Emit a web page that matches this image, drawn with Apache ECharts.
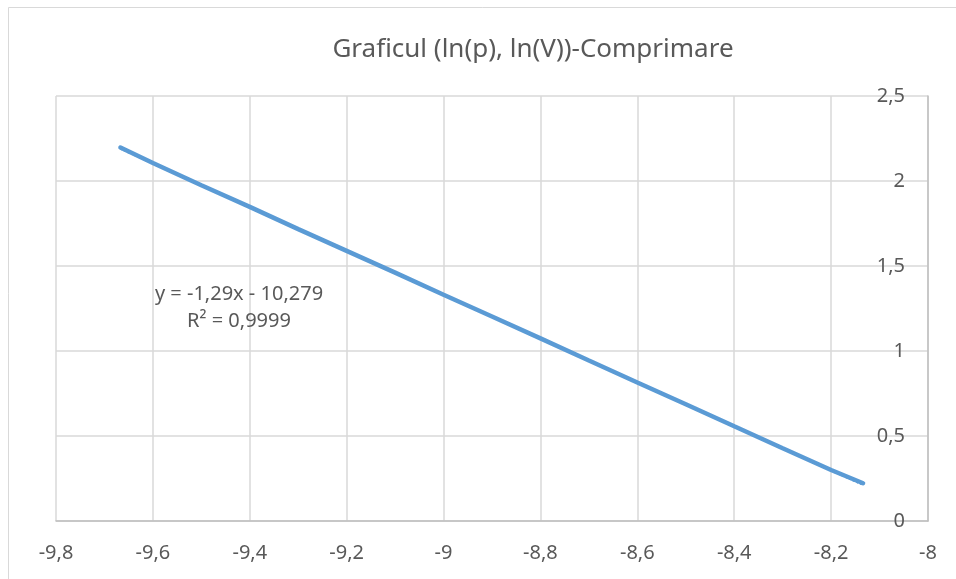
<!DOCTYPE html>
<html>
<head>
<meta charset="utf-8">
<script src="https://cdn.jsdelivr.net/npm/echarts@6/dist/echarts.min.js"></script>
<style>
  html, body { margin: 0; padding: 0; background: #ffffff; }
  #chart { width: 956px; height: 579px; }
</style>
</head>
<body>
<div id="chart"></div>
<script>
// Measured points: ln(p) on x, ln(V) on y, compression run
const lnP = [-9.667, -9.6, -9.5, -9.4, -9.3, -9.2, -9.1, -9.0, -8.9, -8.8, -8.7, -8.6, -8.5, -8.4, -8.3, -8.2, -8.134];
const lnV = [2.197, 2.106, 1.975, 1.848, 1.717, 1.589, 1.461, 1.331, 1.203, 1.074, 0.944, 0.815, 0.687, 0.557, 0.428, 0.300, 0.222];

// Linear trendline coefficients, as printed on the chart
const slope = -1.29;
const intercept = -10.279;
const rSquared = 0.9999;

// Axis ranges and ticks
const xRange = [-9.8, -8];
const xStep = 0.2;
const yRange = [0, 2.5];
const yStep = 0.5;

const titleText = 'Graficul (ln(p), ln(V))-Comprimare';

const fmtComma = (v) => String(+(+v).toFixed(4)).replace('.', ',');

const dataPts = lnP.map((x, i) => [x, lnV[i]]);
const xMin = Math.min(...lnP), xMax = Math.max(...lnP);
const trendPts = [[xMin, slope * xMin + intercept], [xMax, slope * xMax + intercept]];

const eqText = 'y = ' + fmtComma(slope) + 'x - ' + fmtComma(Math.abs(intercept)) +
  '\nR² = ' + fmtComma(rSquared);

const textColor = '#595959';
const gridColor = '#d9d9d9';
const axisColor = '#bfbfbf';
const lineColor = '#5b9bd5';
const fontFamily = '"Noto Sans", "Open Sans", sans-serif';

const chart = echarts.init(document.getElementById('chart'), null, { renderer: 'canvas' });

chart.setOption({
  backgroundColor: '#ffffff',
  animation: false,
  graphic: [
    {
      type: 'rect', z: -10, silent: true,
      shape: { x: 8.5, y: 7.5, width: 1200, height: 800 },
      style: { fill: '#ffffff', stroke: gridColor, lineWidth: 1 }
    },
    {
      type: 'text', z: 10, silent: true,
      x: 533, y: 50,
      style: {
        text: titleText, align: 'center', verticalAlign: 'middle',
        fill: textColor, font: '26px ' + fontFamily
      }
    },
    {
      type: 'text', z: 10, silent: true,
      x: 239, y: 308,
      style: {
        text: eqText, align: 'center', verticalAlign: 'middle',
        fill: textColor, font: '20px ' + fontFamily, lineHeight: 27
      }
    }
  ],
  grid: { left: 56, right: 28, top: 96, bottom: 58, containLabel: false },
  xAxis: {
    type: 'value',
    min: xRange[0], max: xRange[1], interval: xStep,
    axisLine: { show: true, onZero: false, lineStyle: { color: axisColor, width: 1.5 } },
    axisTick: { show: false },
    splitLine: { show: true, lineStyle: { color: gridColor, width: 1.5 } },
    axisLabel: {
      color: textColor, fontFamily: fontFamily, fontSize: 20, margin: 22,
      formatter: fmtComma
    }
  },
  yAxis: {
    type: 'value',
    position: 'right',
    min: yRange[0], max: yRange[1], interval: yStep,
    axisLine: { show: true, onZero: false, lineStyle: { color: axisColor, width: 1.5 } },
    axisTick: { show: false },
    splitLine: { show: true, lineStyle: { color: gridColor, width: 1.5 } },
    axisLabel: {
      inside: true, color: textColor, fontFamily: fontFamily, fontSize: 20, margin: 23,
      formatter: fmtComma
    }
  },
  series: [
    {
      name: 'ln(V)',
      type: 'line',
      data: dataPts,
      showSymbol: false,
      smooth: false,
      lineStyle: { color: lineColor, width: 4.5, cap: 'round' },
      z: 3
    },
    {
      name: 'Linear (ln(V))',
      type: 'line',
      data: trendPts,
      showSymbol: false,
      lineStyle: { color: lineColor, width: 2.5, type: [2, 2] },
      z: 4
    }
  ]
});
</script>
</body>
</html>
